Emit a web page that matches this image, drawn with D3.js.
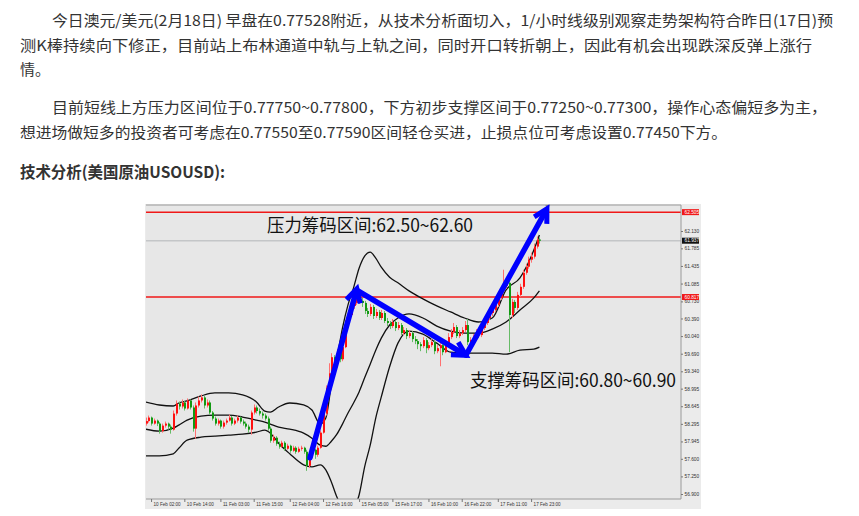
<!DOCTYPE html>
<html><head><meta charset="utf-8">
<script src="https://cdn.jsdelivr.net/npm/d3@7"></script>
<style>body{margin:0;background:#fff}svg{display:block}</style>
</head><body><svg id="c" width="859" height="516"></svg>
<script>
// ---------------- text ----------------
const para1 = [
  "今日澳元/美元(2月18日) 早盘在0.77528附近，从技术分析面切入，1/小时线级别观察走势架构符合昨日(17日)预",
  "测K棒持续向下修正，目前站上布林通道中轨与上轨之间，同时开口转折朝上，因此有机会出现跌深反弹上涨行",
  "情。"
];
const para2 = [
  "目前短线上方压力区间位于0.77750~0.77800，下方初步支撑区间于0.77250~0.77300，操作心态偏短多为主，",
  "想进场做短多的投资者可考虑在0.77550至0.77590区间轻仓买进，止损点位可考虑设置0.77450下方。"
];
const heading = "技术分析(美国原油USOUSD):";
const resistanceText = "压力筹码区间:62.50~62.60";
const supportText = "支撑筹码区间:60.80~60.90";

// ---------------- chart data ----------------
const yTicks = [62.130,61.785,61.435,61.085,60.730,60.390,60.040,59.690,59.340,58.995,58.645,58.295,57.945,57.600,57.250,56.900];
const xTickIndex = [2,14,27,39,52,64,77,89,102,114,127,139];
const xTickLabels = ["10 Feb 02:00","10 Feb 14:00","11 Feb 03:00","11 Feb 15:00","12 Feb 04:00","12 Feb 16:00","15 Feb 05:00","15 Feb 17:00","16 Feb 10:00","16 Feb 22:00","17 Feb 11:00","17 Feb 23:00"];

const open = [
58.30,58.35,58.42,58.30,58.36,58.30,58.15,58.26,58.30,58.24,
58.18,58.50,58.70,58.64,58.72,58.60,58.76,58.62,58.20,58.66,
58.76,58.82,58.66,58.72,58.52,58.40,58.30,58.36,58.24,58.32,
58.36,58.42,58.30,58.36,58.42,58.34,58.30,58.24,58.18,58.52,
58.62,58.55,58.50,58.46,58.40,58.20,57.96,58.02,57.90,57.84,
57.92,57.80,57.86,57.76,57.82,57.74,57.80,57.82,57.74,57.46,
57.70,57.78,57.68,57.82,58.12,58.50,59.00,59.30,59.62,59.52,
59.72,59.58,59.82,60.30,60.46,60.64,60.70,60.82,60.74,60.70,
60.54,60.48,60.62,60.44,60.52,60.40,60.50,60.34,60.30,60.24,
60.32,60.20,60.26,60.10,60.16,60.04,60.10,59.98,59.94,59.88,
59.84,59.96,59.80,59.86,59.92,59.74,59.80,59.86,59.72,59.90,
60.02,60.12,60.22,60.04,60.10,60.16,60.26,59.92,59.96,60.02,
60.12,60.06,60.20,60.30,60.40,60.50,60.56,60.66,60.80,60.96,
61.04,61.10,60.46,60.72,60.60,60.86,61.02,61.30,61.42,61.56,
61.62,61.82,61.96];
const high = [
58.42,58.46,58.44,58.40,58.38,58.33,58.30,58.34,58.32,58.28,
58.56,58.76,58.74,58.78,58.75,58.80,58.78,58.66,58.72,58.84,
58.88,58.85,58.78,58.76,58.55,58.44,58.40,58.38,58.36,58.40,
58.48,58.45,58.40,58.46,58.44,58.38,58.34,58.28,58.56,58.68,
58.66,58.60,58.54,58.50,58.44,58.24,58.08,58.05,57.94,57.96,
57.95,57.90,57.88,57.86,57.85,57.84,57.86,57.84,57.78,57.74,
57.82,57.80,57.86,58.16,58.56,59.06,59.50,59.70,59.66,59.78,
59.76,59.88,60.36,60.52,60.70,60.76,60.88,60.86,60.80,60.74,
60.60,60.68,60.66,60.58,60.56,60.56,60.54,60.40,60.34,60.38,
60.35,60.32,60.30,60.22,60.20,60.16,60.14,60.04,59.98,59.92,
60.02,60.00,59.92,59.98,59.96,59.86,59.90,59.88,59.96,60.10,
60.18,60.30,60.26,60.16,60.22,60.34,60.38,60.02,60.08,60.18,
60.16,60.26,60.36,60.46,60.56,60.62,60.74,60.86,61.02,61.36,
61.16,61.30,60.78,60.76,60.92,61.08,61.36,61.48,61.62,61.70,
61.88,62.02,62.00];
const low = [
58.26,58.32,58.26,58.28,58.25,58.10,58.12,58.22,58.18,58.10,
58.16,58.46,58.58,58.60,58.56,58.58,58.58,58.14,58.00,58.62,
58.72,58.60,58.62,58.48,58.36,58.26,58.26,58.20,58.20,58.28,
58.34,58.26,58.27,58.32,58.30,58.26,58.20,58.12,58.08,58.48,
58.50,58.46,58.40,58.36,58.16,57.92,57.92,57.86,57.80,57.82,
57.76,57.78,57.72,57.74,57.70,57.72,57.76,57.70,57.36,57.42,
57.66,57.60,57.64,57.80,58.10,58.46,58.96,59.20,59.44,59.48,
59.52,59.54,59.80,60.26,60.42,60.58,60.66,60.68,60.62,60.48,
60.42,60.44,60.38,60.40,60.36,60.36,60.30,60.24,60.18,60.20,
60.14,60.16,60.06,60.06,59.98,60.00,59.92,59.88,59.78,59.74,
59.80,59.70,59.76,59.82,59.68,59.70,59.44,59.66,59.70,59.86,
59.98,60.08,60.00,60.00,60.06,60.12,59.86,59.88,59.92,59.98,
60.00,60.02,60.16,60.26,60.36,60.44,60.52,60.62,60.76,60.90,
60.98,59.72,60.40,60.50,60.56,60.82,60.98,61.26,61.38,61.50,
61.58,61.78,61.88];
const close = [
58.35,58.42,58.30,58.36,58.30,58.15,58.26,58.30,58.24,58.18,
58.50,58.70,58.64,58.72,58.60,58.76,58.62,58.20,58.66,58.76,
58.82,58.66,58.72,58.52,58.40,58.30,58.36,58.24,58.32,58.36,
58.42,58.30,58.36,58.42,58.34,58.30,58.24,58.18,58.52,58.62,
58.55,58.50,58.46,58.40,58.20,57.96,58.02,57.90,57.84,57.92,
57.80,57.86,57.76,57.82,57.74,57.80,57.82,57.74,57.46,57.70,
57.78,57.68,57.82,58.12,58.50,59.00,59.30,59.62,59.52,59.72,
59.58,59.82,60.30,60.46,60.64,60.70,60.82,60.74,60.70,60.54,
60.48,60.62,60.44,60.52,60.40,60.50,60.34,60.30,60.24,60.32,
60.20,60.26,60.10,60.16,60.04,60.10,59.98,59.94,59.88,59.84,
59.96,59.80,59.86,59.92,59.74,59.80,59.86,59.72,59.90,60.02,
60.12,60.22,60.04,60.10,60.16,60.26,59.92,59.96,60.02,60.12,
60.06,60.20,60.30,60.40,60.50,60.56,60.66,60.80,60.96,61.04,
61.10,60.46,60.72,60.60,60.86,61.02,61.30,61.42,61.56,61.62,
61.82,61.96,61.937];

// Bollinger bands at these bar indices
const bandIndex = [0,5,10,12,15,20,25,30,35,40,43,45,48,52,57,60,63,65,67,69,71,73,75,77,79,81,83,85,88,91,95,100,105,110,115,120,125,130,135,140,142];
const bandUpper = [58.73,58.67,58.65,58.71,58.75,58.85,58.91,58.91,58.87,58.73,58.55,58.53,58.63,58.71,58.67,58.57,58.29,58.41,59.07,59.60,60.20,60.66,61.00,61.39,61.63,61.71,61.59,61.41,61.21,61.10,60.94,60.78,60.64,60.52,60.40,60.32,60.40,60.96,61.20,61.75,62.05];
const bandMiddle = [58.19,58.15,58.21,58.27,58.37,58.45,58.47,58.47,58.43,58.37,58.33,58.29,58.23,58.19,58.11,58.01,57.87,57.85,57.95,58.09,58.29,58.51,58.71,58.93,59.21,59.48,59.76,60.00,60.26,60.40,60.48,60.40,60.24,60.14,60.10,60.10,60.18,60.32,60.56,60.80,60.94];
const bandLower = [57.66,57.66,57.70,57.81,57.97,58.03,58.05,58.07,58.09,58.13,58.17,58.11,57.91,57.70,57.48,57.44,57.48,57.38,57.14,56.84,56.62,56.52,56.62,56.88,57.44,57.87,58.41,58.83,59.43,59.90,60.14,60.08,59.90,59.72,59.70,59.70,59.70,59.68,59.76,59.78,59.82];

const levelValues = [62.505, 60.817];
const lastPrice = 61.937;
// arrows: [startIndex, startPrice, tipIndex, tipPrice]
const arrowStarts = [[59.3,57.62],[76.6,60.94],[115.5,59.66]];
const arrowTips = [[76.2,60.98],[115.5,59.66],[144.7,62.57]];
const shiftMarkerIndex = 145;

// ---------------- drawing ----------------
const svg = d3.select("#c");
const CJK = "'Noto Sans CJK SC','Noto Sans',sans-serif";

function textLines(lines, x0s, ys, lens, size, weight) {
  lines.forEach((t, i) => {
    const el = svg.append("text").attr("x", x0s[i]).attr("y", ys[i])
      .attr("font-family", CJK).attr("font-size", size).attr("font-weight", weight || 400)
      .attr("fill", "#333").text(t);
    if (lens[i]) el.attr("textLength", lens[i]).attr("lengthAdjust", "spacingAndGlyphs");
  });
}
textLines(para1, [52, 20, 20], [25.5, 50.5, 74.5], [781, 792, 0], 15);
textLines(para2, [52, 20], [112.5, 137.5], [775, 707], 15);
textLines([heading], [20], [178], [205], 16, 700);

// chart frame
const L = 146, R = 681, T = 205, B = 499;
svg.append("rect").attr("x", 145).attr("y", 204).attr("width", 556).attr("height", 305).attr("fill", "#ebebeb");
svg.append("rect").attr("x", L).attr("y", T).attr("width", R - L).attr("height", B - T).attr("fill", "#e7e7e7");

const x = d3.scaleLinear().domain([0, 142]).range([145.5, 539.4]);
const y = d3.scaleLinear().domain([56.9, 62.13]).range([494, 231]);

svg.append("clipPath").attr("id", "clip").append("rect")
  .attr("x", L).attr("y", T).attr("width", R - L).attr("height", B - T);

// last price line
svg.append("line").attr("x1", L).attr("x2", R).attr("y1", y(lastPrice)).attr("y2", y(lastPrice))
  .attr("stroke", "#c4c6c8").attr("stroke-width", 1.6);
// red levels
svg.selectAll("line.lvl").data(levelValues).join("line").attr("class", "lvl")
  .attr("x1", L).attr("x2", R).attr("y1", d => y(d)).attr("y2", d => y(d))
  .attr("stroke", "#f01818").attr("stroke-width", 1.5);

const plot = svg.append("g").attr("clip-path", "url(#clip)");

// bands
const bandLine = vals => d3.line().x((d, i) => x(bandIndex[i])).y(d => y(d)).curve(d3.curveMonotoneX)(vals);
[bandUpper, bandMiddle, bandLower].forEach(v => {
  plot.append("path").attr("d", bandLine(v)).attr("fill", "none")
    .attr("stroke", "#111").attr("stroke-width", 1.3);
});

// candles
const idx = d3.range(close.length);
const up = i => close[i] >= open[i];
plot.selectAll("line.wick").data(idx).join("line").attr("class", "wick")
  .attr("x1", i => Math.round(x(i)) + 0.5).attr("x2", i => Math.round(x(i)) + 0.5)
  .attr("y1", i => y(high[i])).attr("y2", i => y(low[i]))
  .attr("stroke", i => up(i) ? "#ff7070" : "#66bb66").attr("stroke-width", 1);
plot.selectAll("rect.body").data(idx).join("rect").attr("class", "body")
  .attr("x", i => Math.round(x(i)))
  .attr("width", 2)
  .attr("y", i => y(Math.max(open[i], close[i])))
  .attr("height", i => Math.max(1, Math.abs(y(open[i]) - y(close[i]))))
  .attr("fill", i => up(i) ? "#ff1010" : "#119911");

// border
svg.append("path").attr("d", `M${L},${T}H${R}V${B}H${L}`).attr("fill", "none")
  .attr("stroke", "#9a9a9a").attr("stroke-width", 1);

// shift marker
svg.append("path").attr("d", d3.symbol(d3.symbolTriangle, 10)())
  .attr("transform", `translate(${x(shiftMarkerIndex)},${T + 1.5}) rotate(180)`).attr("fill", "#888");

// right axis
const ya = svg.append("g").attr("transform", `translate(${R},0)`)
  .call(d3.axisRight(y).tickValues(yTicks).tickSize(2).tickFormat(d3.format(".3f")));
ya.select(".domain").remove();
ya.selectAll("line").attr("stroke", "#777");
ya.selectAll("text").attr("x", 3.5).attr("font-family", "'Liberation Sans',Arial,sans-serif")
  .attr("font-size", 4.8).attr("fill", "#333");

// price boxes
const boxes = [[levelValues[0], "#f01818"], [lastPrice, "#111"], [levelValues[1], "#f01818"]];
boxes.forEach(([v, c]) => {
  svg.append("rect").attr("x", R + 1).attr("y", y(v) - 3).attr("width", 17).attr("height", 6).attr("fill", c);
  svg.append("text").attr("x", R + 3.5).attr("y", y(v) + 1.7)
    .attr("font-family", "'Liberation Sans',Arial,sans-serif").attr("font-size", 4.8)
    .attr("fill", "#fff").text(d3.format(".3f")(v));
});

// bottom axis
const xa = svg.append("g").attr("transform", `translate(0,${B})`)
  .call(d3.axisBottom(x).tickValues(xTickIndex).tickSize(3).tickFormat((d, i) => xTickLabels[i]));
xa.select(".domain").remove();
xa.selectAll("line").attr("stroke", "#777");
xa.selectAll("text").attr("text-anchor", "start").attr("x", 2).attr("y", 3.5).attr("dy", "0.71em")
  .attr("font-family", "'Liberation Sans',Arial,sans-serif").attr("font-size", 4.6).attr("fill", "#333");

// annotation texts
svg.append("text").attr("x", 267).attr("y", 232).attr("font-family", CJK).attr("font-size", 18)
  .attr("fill", "#111").attr("textLength", 206).attr("lengthAdjust", "spacingAndGlyphs").text(resistanceText);
svg.append("text").attr("x", 470).attr("y", 387).attr("font-family", CJK).attr("font-size", 18)
  .attr("fill", "#111").attr("textLength", 206).attr("lengthAdjust", "spacingAndGlyphs").text(supportText);

// blue arrows
arrowStarts.forEach((s, k) => {
  const p0 = [x(s[0]), y(s[1])], p1 = [x(arrowTips[k][0]), y(arrowTips[k][1])];
  const ang = Math.atan2(p1[1] - p0[1], p1[0] - p0[0]);
  const w = 15, a = 0.5;
  const w1 = [p1[0] - w * Math.cos(ang - a), p1[1] - w * Math.sin(ang - a)];
  const w2 = [p1[0] - w * Math.cos(ang + a), p1[1] - w * Math.sin(ang + a)];
  svg.append("line").attr("x1", p0[0]).attr("y1", p0[1]).attr("x2", p1[0] - 2 * Math.cos(ang)).attr("y2", p1[1] - 2 * Math.sin(ang))
    .attr("stroke", "#0000ff").attr("stroke-width", 5.5).attr("stroke-linecap", "round");
  svg.append("path").attr("d", `M${w1}L${p1}L${w2}`).attr("fill", "none")
    .attr("stroke", "#0000ff").attr("stroke-width", 5).attr("stroke-linejoin", "miter").attr("stroke-miterlimit", 10);
});
</script></body></html>
